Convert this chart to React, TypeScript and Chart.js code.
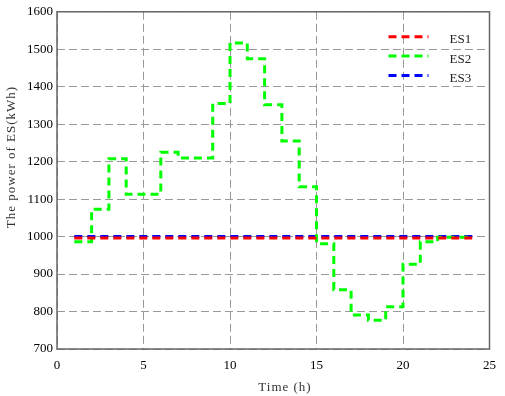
import React, { useEffect, useRef } from "react";
import { Chart, registerables } from "chart.js";

Chart.register(...registerables);

const hours = [1, 2, 3, 4, 5, 6, 7, 8, 9, 10, 11, 12, 13, 14, 15, 16, 17, 18, 19, 20, 21, 22, 23, 24];
const es1 = [996, 996, 996, 996, 996, 996, 996, 996, 996, 996, 996, 996, 996, 996, 996, 996, 996, 996, 996, 996, 996, 996, 996, 996];
const es2 = [986, 1073, 1208, 1113, 1113, 1225, 1210, 1210, 1355, 1517, 1475, 1352, 1255, 1133, 981, 858, 791, 777, 813, 926, 986, 998, 998, 998];
const es3 = [1000, 1000, 1000, 1000, 1000, 1000, 1000, 1000, 1000, 1000, 1000, 1000, 1000, 1000, 1000, 1000, 1000, 1000, 1000, 1000, 1000, 1000, 1000, 1000];
const seriesNames = ["ES1", "ES2", "ES3"];
const seriesColors = ["#ff0000", "#00ff00", "#0000ff"];
const xTitle = "Time (h)";
const yTitle = "The power of ES(kWh)";

const FONT = "'Liberation Serif', 'DejaVu Serif', serif";

const decorPlugin = {
  id: "decor",
  afterDraw(chart: any) {
    const ctx = chart.ctx;
    const area = chart.chartArea;
    ctx.save();
    // frame
    ctx.strokeStyle = "#666";
    ctx.lineWidth = 1.5;
    ctx.setLineDash([]);
    ctx.strokeRect(area.left, area.top, area.right - area.left, area.bottom - area.top);
    // legend
    seriesNames.forEach((name, i) => {
      const y = area.top + 25 + i * 19.3;
      const x0 = area.right - 101;
      ctx.strokeStyle = seriesColors[i];
      ctx.lineWidth = 3;
      ctx.setLineDash([8, 5]);
      ctx.beginPath();
      ctx.moveTo(x0, y);
      ctx.lineTo(x0 + 40, y);
      ctx.stroke();
      ctx.setLineDash([]);
      ctx.fillStyle = "#222";
      ctx.font = "13px " + FONT;
      ctx.textBaseline = "middle";
      ctx.textAlign = "left";
      ctx.fillText(name, x0 + 61, y + 3);
    });
    // titles
    ctx.fillStyle = "#333";
    ctx.font = "13px " + FONT;
    ctx.textAlign = "center";
    ctx.textBaseline = "middle";
    (ctx as any).letterSpacing = "1px";
    ctx.fillText(xTitle, 285, 388);
    ctx.translate(12, 157);
    ctx.rotate(-Math.PI / 2);
    ctx.fillText(yTitle, 0, 0);
    ctx.restore();
  },
};

export default function App() {
  const ref = useRef<HTMLCanvasElement>(null);
  useEffect(() => {
    document.body.style.margin = "0";
    const mk = (vals: number[]) => hours.map((h, i) => ({ x: h, y: vals[i] }));
    const ds = (i: number, vals: number[]) => ({
      label: seriesNames[i],
      data: mk(vals),
      borderColor: seriesColors[i],
      backgroundColor: seriesColors[i],
      borderWidth: 3,
      borderDash: [8, 5],
      pointRadius: 0,
      stepped: "before" as const,
      fill: false,
    });
    const chart = new Chart(ref.current!, {
      type: "line",
      data: { datasets: [ds(0, es1), ds(1, es2), ds(2, es3)] },
      plugins: [decorPlugin],
      options: {
        animation: false,
        responsive: false,
        layout: { padding: { top: 4, right: 11, left: 0, bottom: 0 } },
        plugins: { legend: { display: false }, tooltip: { enabled: false } },
        scales: {
          x: {
            type: "linear",
            min: 0,
            max: 25,
            ticks: { stepSize: 5, color: "#000", font: { family: FONT, size: 13 }, padding: 9, callback: (v: any) => String(v) },
            grid: { color: "#999", lineWidth: 1, drawTicks: false },
            border: { display: false, dash: [8, 4] },
            title: { display: false },
            afterFit: (s: any) => { s.height = 47; },
          },
          y: {
            min: 700,
            max: 1600,
            ticks: { stepSize: 100, color: "#000", font: { family: FONT, size: 13 }, padding: 4, callback: (v: any) => String(v) },
            grid: { color: "#999", lineWidth: 1, drawTicks: false },
            border: { display: false, dash: [8, 4] },
            title: { display: false },
            afterFit: (s: any) => { s.width = 57; },
          },
        },
      },
    } as any);
    return () => chart.destroy();
  }, []);
  return (
    <div style={{ position: "absolute", left: 0, top: 0, width: 505, height: 396 }}>
      <canvas ref={ref} width={505} height={396} />
    </div>
  );
}
